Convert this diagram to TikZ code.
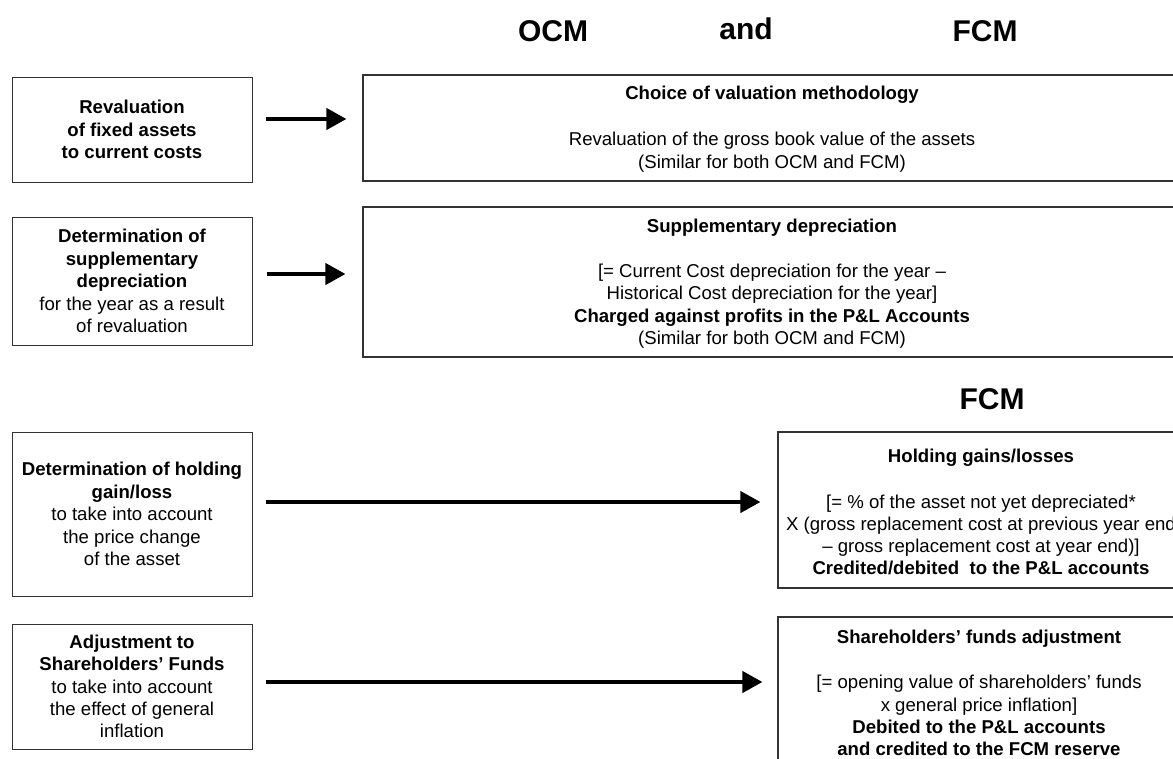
\documentclass[tikz,border=0pt]{standalone}
\usepackage{fontspec}
\setmainfont{Liberation Sans}
\usetikzlibrary{arrows.meta}
\tikzset{
  lbox/.style={draw=black!80, line width=1pt, rectangle, align=center, inner sep=0pt,
    font=\fontsize{18.6}{22.4}\selectfont},
  rbox/.style={draw=black!80, line width=1.1pt, rectangle, inner sep=0pt},
  wtext/.style={align=center, inner sep=0pt, font=\fontsize{18.6}{22.2}\selectfont},
  ttl/.style={inner sep=0pt, anchor=base, font=\bfseries\fontsize{30}{34}\selectfont},
  arr/.style={line width=4pt, -{Triangle[length=20pt,width=21pt]}}
}
\begin{document}
\begin{tikzpicture}[x=1pt,y=-1pt]
\useasboundingbox (0,0) rectangle (1173,758);
\clip (0,0) rectangle (1173,758);
\fill[white] (0,0) rectangle (1173,758);

% titles
\node[ttl] (tocm) at (553,41.7) {OCM};
\node[ttl] (tand) at (746,39.3) {and};
\node[ttl] (tfcm) at (985,41.7) {FCM};
\node[ttl] (tfcm2) at (992,409) {FCM};

% left boxes
\node[lbox, minimum width=240pt, minimum height=105pt] (lb1) at (132,129.5)
  {\textbf{Revaluation}\\\textbf{of fixed assets}\\\textbf{to current costs}};
\node[lbox, minimum width=240pt, minimum height=128pt] (lb2) at (132,281)
  {\textbf{Determination of}\\\textbf{supplementary}\\\textbf{depreciation}\\for the year as a result\\of revaluation};
\node[lbox, minimum width=240pt, minimum height=164pt] (lb3) at (132,514)
  {\textbf{Determination of holding}\\\textbf{gain/loss}\\to take into account\\the price change\\of the asset};
\node[lbox, minimum width=240pt, minimum height=125pt] (lb4) at (132,686.5)
  {\textbf{Adjustment to}\\\textbf{Shareholders’ Funds}\\to take into account\\the effect of general\\inflation};

% right boxes
\node[rbox, minimum width=837pt, minimum height=106pt] (rb1) at (781.5,128) {};
\node[rbox, minimum width=837pt, minimum height=150pt] (rb2) at (781.5,282) {};
\node[rbox, minimum width=422pt, minimum height=156pt] (rb3) at (989,510) {};
\node[rbox, minimum width=422pt, minimum height=183pt] (rb4) at (989,708.5) {};

% right box texts
\node[wtext] (t1) at (772,129)
  {\textbf{Choice of valuation methodology}\\[24pt]Revaluation of the gross book value of the assets\\(Similar for both OCM and FCM)};
\node[wtext] (t2) at (772,283.5)
  {\textbf{Supplementary depreciation}\\[23pt][= Current Cost depreciation for the year –\\Historical Cost depreciation for the year]\\\textbf{Charged against profits in the P\&L Accounts}\\(Similar for both OCM and FCM)};
\node[wtext] (t3) at (981,512)
  {\textbf{Holding gains/losses}\\[24pt][= \% of the asset not yet depreciated*\\X (gross replacement cost at previous year end\\– gross replacement cost at year end)]\\\textbf{Credited/debited\ \ to the P\&L accounts}};
\node[wtext, anchor=north] (t4) at (979,630)
  {\textbf{Shareholders’ funds adjustment}\\[23pt][= opening value of shareholders’ funds\\x general price inflation]\\\textbf{Debited to the P\&L accounts}\\\textbf{and credited to the FCM reserve}};

% arrows
\draw[arr, shorten >=16pt] ([xshift=13pt,yshift=10.5pt]lb1.east) coordinate (s1) -- (s1 -| rb1.west);
\draw[arr, shorten >=17pt] ([xshift=14pt,yshift=7pt]lb2.east) coordinate (s2) -- (s2 -| rb2.west);
\draw[arr, shorten >=17pt] ([xshift=13pt,yshift=12pt]lb3.east) coordinate (s3) -- (s3 -| rb3.west);
\draw[arr, shorten >=15pt] ([xshift=13pt,yshift=4.5pt]lb4.east) coordinate (s4) -- (s4 -| rb4.west);
\end{tikzpicture}
\end{document}
